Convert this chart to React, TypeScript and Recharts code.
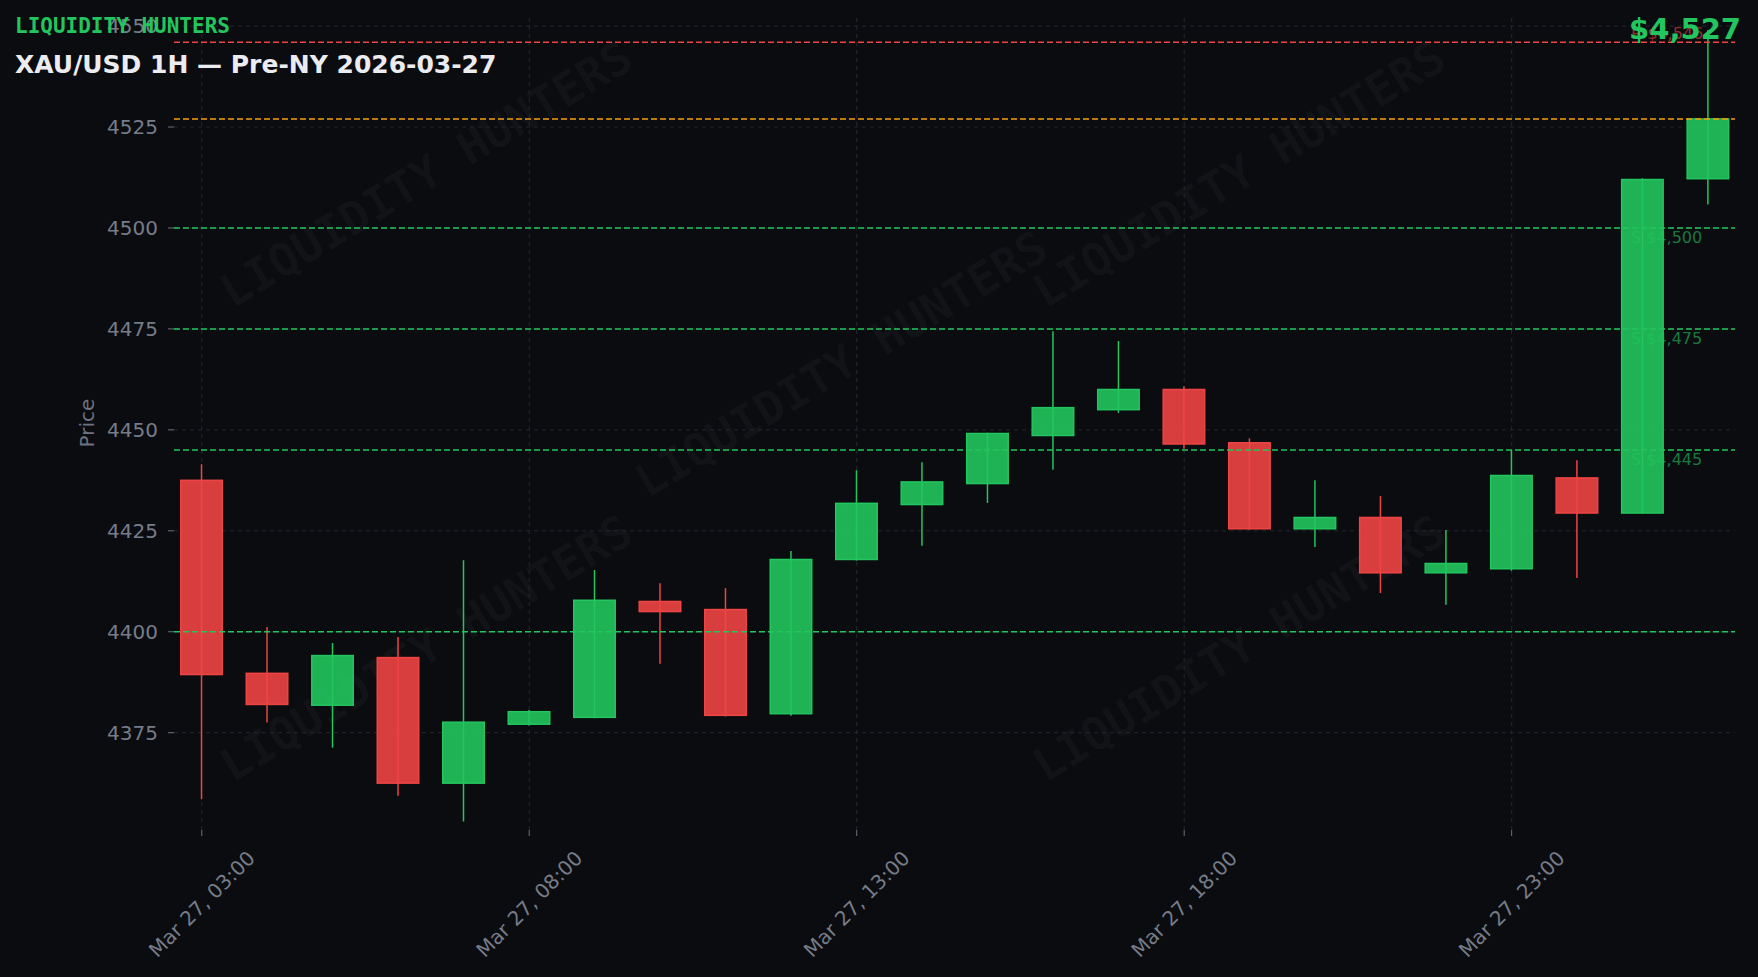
import React from 'react';
import {
  ComposedChart,
  Bar,
  XAxis,
  YAxis,
  CartesianGrid,
  ReferenceLine,
} from 'recharts';

const hours = [
  'Mar 27, 03:00', 'Mar 27, 04:00', 'Mar 27, 05:00', 'Mar 27, 06:00', 'Mar 27, 07:00', 'Mar 27, 08:00',
  'Mar 27, 09:00', 'Mar 27, 10:00', 'Mar 27, 11:00', 'Mar 27, 12:00', 'Mar 27, 13:00', 'Mar 27, 14:00',
  'Mar 27, 15:00', 'Mar 27, 16:00', 'Mar 27, 17:00', 'Mar 27, 18:00', 'Mar 27, 19:00', 'Mar 27, 20:00',
  'Mar 27, 21:00', 'Mar 27, 22:00', 'Mar 27, 23:00', 'Mar 28, 00:00', 'Mar 28, 01:00', 'Mar 28, 02:00',
];

const opens = [
  4437.5, 4389.7, 4381.8, 4393.6, 4362.5, 4377.1, 4378.8, 4407.5, 4405.5, 4379.7, 4417.9, 4431.5,
  4436.7, 4448.6, 4455.0, 4460.0, 4446.8, 4425.5, 4428.3, 4414.6, 4415.6, 4438.1, 4429.4, 4512.2,
];
const highs = [
  4441.5, 4401.2, 4397.2, 4398.7, 4417.7, 4380.6, 4415.3, 4412.0, 4410.8, 4420.0, 4440.0, 4442.0,
  4449.3, 4474.4, 4472.0, 4460.8, 4447.9, 4437.5, 4433.6, 4425.2, 4445.0, 4442.5, 4512.3, 4549.0,
];
const lows = [
  4358.5, 4377.5, 4371.3, 4359.4, 4353.0, 4376.8, 4378.6, 4392.1, 4379.0, 4379.2, 4417.6, 4421.3,
  4431.9, 4440.1, 4454.2, 4445.3, 4425.3, 4421.0, 4409.6, 4406.7, 4415.1, 4413.3, 4429.2, 4505.8,
];
const closes = [
  4389.4, 4382.0, 4394.1, 4362.5, 4377.6, 4380.2, 4407.8, 4405.0, 4379.3, 4417.9, 4431.8, 4437.1,
  4449.1, 4455.5, 4460.0, 4446.5, 4425.5, 4428.3, 4414.6, 4416.9, 4438.7, 4429.4, 4512.0, 4527.0,
];

const xTicks = [0, 5, 10, 15, 20];
const yTicks = [4375, 4400, 4425, 4450, 4475, 4500, 4525, 4550];

const resistanceLevels = [4546];
const supportLevels = [4500, 4475, 4445];
const unlabeledSupport = [4400];
const currentPrice = 4527;

const GREEN = '#22c55e';
const RED = '#ef4444';
const ORANGE = '#f59e0b';
const BG = '#0b0c10';
const TICK = '#767c88';
const GRID = '#25272f';

const data = hours.map((h, i) => ({
  i,
  label: h,
  open: opens[i],
  high: highs[i],
  low: lows[i],
  close: closes[i],
  range: [lows[i], highs[i]],
}));

const fmt = (v: number) => '$' + v.toLocaleString('en-US');

const Candle = (props: any) => {
  const { x, y, width, height, payload } = props;
  if (!payload || height == null) return null;
  const { open, close, high, low } = payload;
  const span = high - low || 1;
  const py = (v: number) => y + ((high - v) / span) * height;
  const up = close >= open;
  const col = up ? GREEN : RED;
  const cx = x + width / 2;
  const top = py(Math.max(open, close));
  const bot = py(Math.min(open, close));
  return (
    <g>
      <line x1={cx} x2={cx} y1={y} y2={y + height} stroke={col} strokeWidth={1.5} />
      <rect
        x={x + 0.75}
        y={top}
        width={width - 1.5}
        height={Math.max(bot - top, 1)}
        fill={col}
        fillOpacity={0.9}
        stroke={col}
        strokeWidth={1.5}
      />
    </g>
  );
};

const XTick = (props: any) => {
  const { x, y, payload } = props;
  const cy = y + 66;
  return (
    <text
      x={x}
      y={cy}
      transform={`rotate(-45 ${x} ${cy})`}
      textAnchor="middle"
      dominantBaseline="central"
      fill={TICK}
      fontSize={20}
      fontFamily="DejaVu Sans"
    >
      {hours[payload.value]}
    </text>
  );
};

const levelLabel = (text: string, color: string, above: boolean) => (p: any) => {
  const vb = p.viewBox || {};
  const x = vb.x + vb.width - 104;
  const y = above ? vb.y - 3 : vb.y + 15;
  return (
    <text x={x} y={y} fill={color} fillOpacity={0.6} fontSize={16} fontFamily="DejaVu Sans" textAnchor="start">
      {text}
    </text>
  );
};

const watermarks = [
  [426, 174],
  [841, 364],
  [426, 648],
  [1239, 174],
  [1239, 648],
];

export default function App() {
  return (
    <div style={{ position: 'absolute', left: 0, top: 0, width: 1758, height: 977, background: BG, overflow: 'hidden' }}>
      <svg width={1758} height={977} style={{ position: 'absolute', left: 0, top: 0 }}>
        {watermarks.map(([cx, cy], k) => (
          <text
            key={k}
            x={cx}
            y={cy}
            transform={`rotate(-31 ${cx} ${cy})`}
            textAnchor="middle"
            dominantBaseline="central"
            fill="#ffffff"
            fillOpacity={0.035}
            fontSize={46}
            fontWeight="bold"
            fontFamily="DejaVu Sans Mono"
          >
            LIQUIDITY HUNTERS
          </text>
        ))}
      </svg>
      <div style={{ position: 'absolute', left: 0, top: 0 }}>
        <ComposedChart
          width={1758}
          height={977}
          data={data}
          margin={{ top: 18, right: 23, bottom: 47, left: 84 }}
        >
          <CartesianGrid stroke={GRID} strokeDasharray="4 4" syncWithTicks />
          <XAxis
            dataKey="i"
            type="number"
            domain={[-0.424, 23.41]}
            ticks={xTicks}
            allowDataOverflow
            height={100}
            tickSize={6}
            tickMargin={2}
            axisLine={false}
            tickLine={{ stroke: '#6b7080' }}
            tick={<XTick />}
            interval={0}
          />
          <YAxis
            type="number"
            domain={[4350.9, 4552]}
            ticks={yTicks}
            allowDataOverflow
            width={90}
            tickSize={6}
            tickMargin={10}
            axisLine={false}
            tickLine={{ stroke: '#6b7080' }}
            tick={{ fill: TICK, fontSize: 20, fontFamily: 'DejaVu Sans' }}
            interval={0}
          />
          <Bar dataKey="range" barSize={43} shape={<Candle />} isAnimationActive={false} />
          {resistanceLevels.map((v) => (
            <ReferenceLine
              key={'r' + v}
              y={v}
              stroke={RED}
              strokeWidth={1.5}
              strokeDasharray="6 3"
              label={levelLabel('R ' + fmt(v), RED, true)}
            />
          ))}
          <ReferenceLine y={currentPrice} stroke={ORANGE} strokeWidth={1.5} strokeDasharray="6 3" />
          {supportLevels.map((v) => (
            <ReferenceLine
              key={'s' + v}
              y={v}
              stroke={GREEN}
              strokeWidth={1.5}
              strokeDasharray="6 3"
              label={levelLabel('S ' + fmt(v), GREEN, false)}
            />
          ))}
          {unlabeledSupport.map((v) => (
            <ReferenceLine key={'u' + v} y={v} stroke={GREEN} strokeWidth={1.5} strokeDasharray="6 3" />
          ))}
        </ComposedChart>
      </div>
      <svg width={1758} height={977} style={{ position: 'absolute', left: 0, top: 0, pointerEvents: 'none' }}>
        <text x={15} y={33} fill={GREEN} fontSize={21} fontWeight="bold" fontFamily="DejaVu Sans Mono">
          LIQUIDITY HUNTERS
        </text>
        <text x={15} y={73} fill="#ececf0" fontSize={25} fontWeight="bold" fontFamily="DejaVu Sans">
          XAU/USD 1H — Pre-NY 2026-03-27
        </text>
        <text x={1741} y={39} fill={GREEN} fontSize={29} fontWeight="bold" fontFamily="DejaVu Sans" textAnchor="end">
          {fmt(currentPrice)}
        </text>
        <text
          x={94}
          y={423}
          transform="rotate(-90 94 423)"
          fill="#6b7280"
          fontSize={20}
          fontFamily="DejaVu Sans"
          textAnchor="middle"
        >
          Price
        </text>
      </svg>
    </div>
  );
}
